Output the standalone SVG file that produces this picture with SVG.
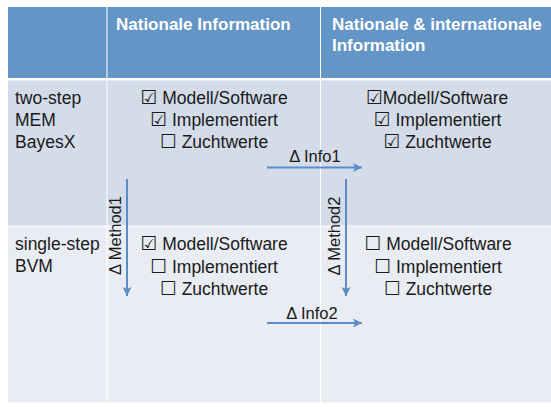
<svg xmlns="http://www.w3.org/2000/svg" width="551" height="407" viewBox="0 0 551 407">
<style>
.hdr{fill:#6395C6}
.r1{fill:#D3DCE8}
.r2{fill:#E9EDF3}
.ht{font-family:"Liberation Sans",Arial,sans-serif;font-size:17px;font-weight:bold;fill:#FFFFFF}
.bt{font-family:"Liberation Sans","DejaVu Sans",Arial,sans-serif;font-size:17.5px;fill:#1A1A1A}
.ck{font-family:"Liberation Sans","DejaVu Sans",Arial,sans-serif;font-size:17.5px;fill:#1A1A1A;text-anchor:middle}
.bx{font-family:"DejaVu Sans",sans-serif;font-size:19px}
.al{font-family:"Liberation Sans","DejaVu Sans",Arial,sans-serif;font-size:16.5px;fill:#1A1A1A;text-anchor:middle}
.arr{stroke:#5B8CC6;stroke-width:2;fill:none;marker-end:url(#ah)}
.div{stroke:#FFFFFF;stroke-width:1}
</style>
<defs>
<marker id="ah" markerUnits="userSpaceOnUse" markerWidth="10" markerHeight="10" refX="9" refY="4.5" orient="auto">
<path d="M0,0 L9,4.5 L0,9 L2,4.5 Z" fill="#5B8CC6"/>
</marker>
</defs>
<rect x="0" y="0" width="551" height="407" fill="#FFFFFF"/>
<g id="header">
<rect class="hdr" x="8" y="7" width="543" height="71"/>
<line class="div" x1="107" y1="7" x2="107" y2="78"/>
<line class="div" x1="320.5" y1="7" x2="320.5" y2="78"/>
<text class="ht" x="116" y="29.5">Nationale Information</text>
<text class="ht" x="332" y="30">Nationale &amp; internationale</text>
<text class="ht" x="332" y="51">Information</text>
</g>
<g id="row1">
<rect class="r1" x="8" y="80.5" width="543" height="145"/>
<line class="div" x1="107" y1="80.5" x2="107" y2="225.5"/>
<line class="div" x1="320.5" y1="80.5" x2="320.5" y2="225.5"/>
<text class="bt" x="15" y="104">two-step</text>
<text class="bt" x="15" y="126">MEM</text>
<text class="bt" x="15" y="148">BayesX</text>
</g>
<g id="row2">
<rect class="r2" x="8" y="226.5" width="543" height="176"/>
<line class="div" x1="107" y1="226.5" x2="107" y2="402.5"/>
<line class="div" x1="320.5" y1="226.5" x2="320.5" y2="402.5"/>
<text class="bt" x="15" y="250">single-step</text>
<text class="bt" x="15" y="272">BVM</text>
</g>
<g id="cell-r1-national">
<text class="ck" x="214" y="103.5"><tspan class="bx">☑</tspan> Modell/Software</text>
<text class="ck" x="214" y="125.5"><tspan class="bx">☑</tspan> Implementiert</text>
<text class="ck" x="214" y="148"><tspan class="bx">☐</tspan> Zuchtwerte</text>
</g>
<g id="cell-r1-international">
<text class="ck" x="437" y="103.5"><tspan class="bx">☑</tspan>Modell/Software</text>
<text class="ck" x="437.5" y="125.5"><tspan class="bx">☑</tspan> Implementiert</text>
<text class="ck" x="437.5" y="148"><tspan class="bx">☑</tspan> Zuchtwerte</text>
</g>
<g id="cell-r2-national">
<text class="ck" x="214" y="250"><tspan class="bx">☑</tspan> Modell/Software</text>
<text class="ck" x="214" y="273"><tspan class="bx">☐</tspan> Implementiert</text>
<text class="ck" x="214" y="295"><tspan class="bx">☐</tspan> Zuchtwerte</text>
</g>
<g id="cell-r2-international">
<text class="ck" x="438" y="250"><tspan class="bx">☐</tspan> Modell/Software</text>
<text class="ck" x="438" y="273"><tspan class="bx">☐</tspan> Implementiert</text>
<text class="ck" x="438" y="295"><tspan class="bx">☐</tspan> Zuchtwerte</text>
</g>
<g id="connectors">
<line class="arr" x1="127" y1="179" x2="127" y2="296"/>
<line class="arr" x1="346" y1="179" x2="346" y2="296"/>
<line class="arr" x1="267" y1="167.5" x2="362" y2="167.5"/>
<line class="arr" x1="267" y1="323" x2="362" y2="323"/>
<text class="al" x="315" y="161.5">Δ Info1</text>
<text class="al" x="312" y="319">Δ Info2</text>
<text class="al" transform="translate(120.5,235.5) rotate(-90)">Δ Method1</text>
<text class="al" transform="translate(339.5,236) rotate(-90)">Δ Method2</text>
</g>
</svg>
